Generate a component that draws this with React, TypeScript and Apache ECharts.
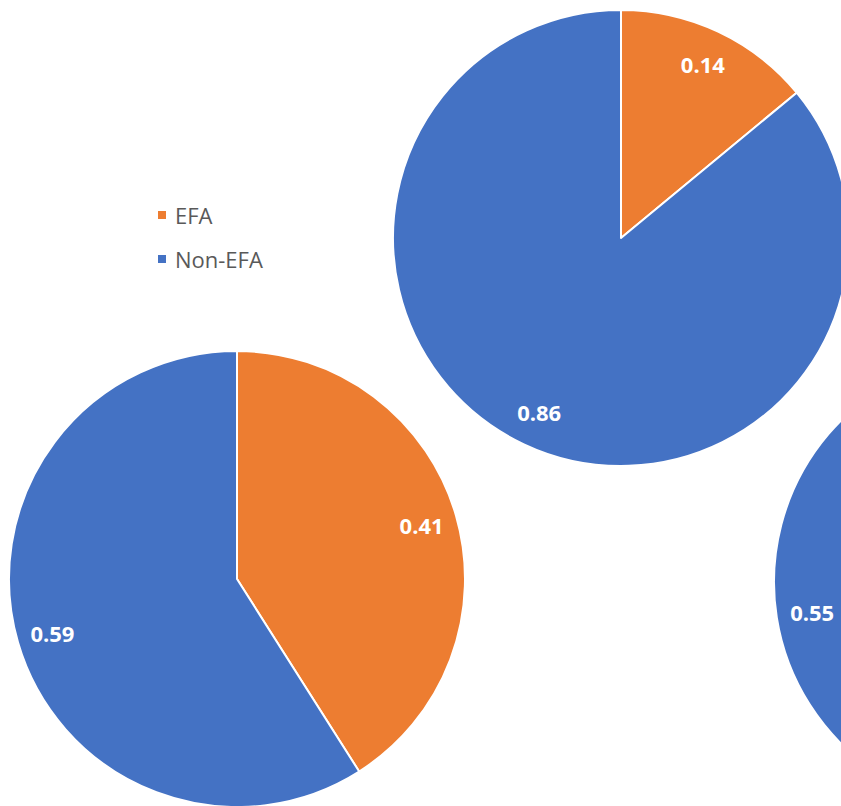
import React, { useEffect, useRef } from "react";
import * as echarts from "echarts";

const categories = ["EFA", "Non-EFA"];
const efaValues = [0.14, 0.41, 0.45];
const nonEfaValues = [0.86, 0.59, 0.55];
const pieCenters: [number, number][] = [
  [621, 238],
  [237, 579],
  [1002, 582],
];
const pieRadius = 228;

const COLORS = ["#ED7D31", "#4472C4"];

export default function App() {
  const ref = useRef<HTMLDivElement>(null);
  useEffect(() => {
    if (!ref.current) return;
    const chart = echarts.init(ref.current, undefined, { renderer: "svg" });
    const series: any[] = [];
    efaValues.forEach((e, i) => {
      const data = [
        { name: categories[0], value: e },
        { name: categories[1], value: nonEfaValues[i] },
      ];
      series.push({
        type: "pie",
        center: pieCenters[i],
        radius: [0, pieRadius],
        startAngle: 90,
        clockwise: true,
        silent: true,
        label: { show: false },
        labelLine: { show: false },
        itemStyle: { borderColor: "#ffffff", borderWidth: 2 },
        data,
      });
      series.push({
        type: "pie",
        center: pieCenters[i],
        radius: [pieRadius * 0.66, pieRadius],
        startAngle: 90,
        clockwise: true,
        silent: true,
        itemStyle: { color: "rgba(0,0,0,0)", borderWidth: 0 },
        label: {
          show: true,
          position: "inside",
          formatter: "{c}",
          color: "#ffffff",
          fontSize: 22,
          fontWeight: "bold",
          fontFamily: "Open Sans, Noto Sans, sans-serif",
        },
        labelLine: { show: false },
        data,
      });
    });
    chart.setOption({
      animation: false,
      color: COLORS,
      legend: {
        orient: "vertical",
        left: 151,
        top: 199,
        itemWidth: 10,
        itemHeight: 10,
        itemGap: 22,
        icon: "rect",
        data: categories,
        textStyle: {
          color: "#595959",
          fontSize: 22,
          fontFamily: "Open Sans, Noto Sans, sans-serif",
          padding: [0, 0, 0, 3],
        },
      },
      series,
    });
    return () => chart.dispose();
  }, []);
  return (
    <div
      ref={ref}
      style={{ position: "fixed", left: 0, top: 0, width: 841, height: 806, background: "#fff" }}
    />
  );
}
